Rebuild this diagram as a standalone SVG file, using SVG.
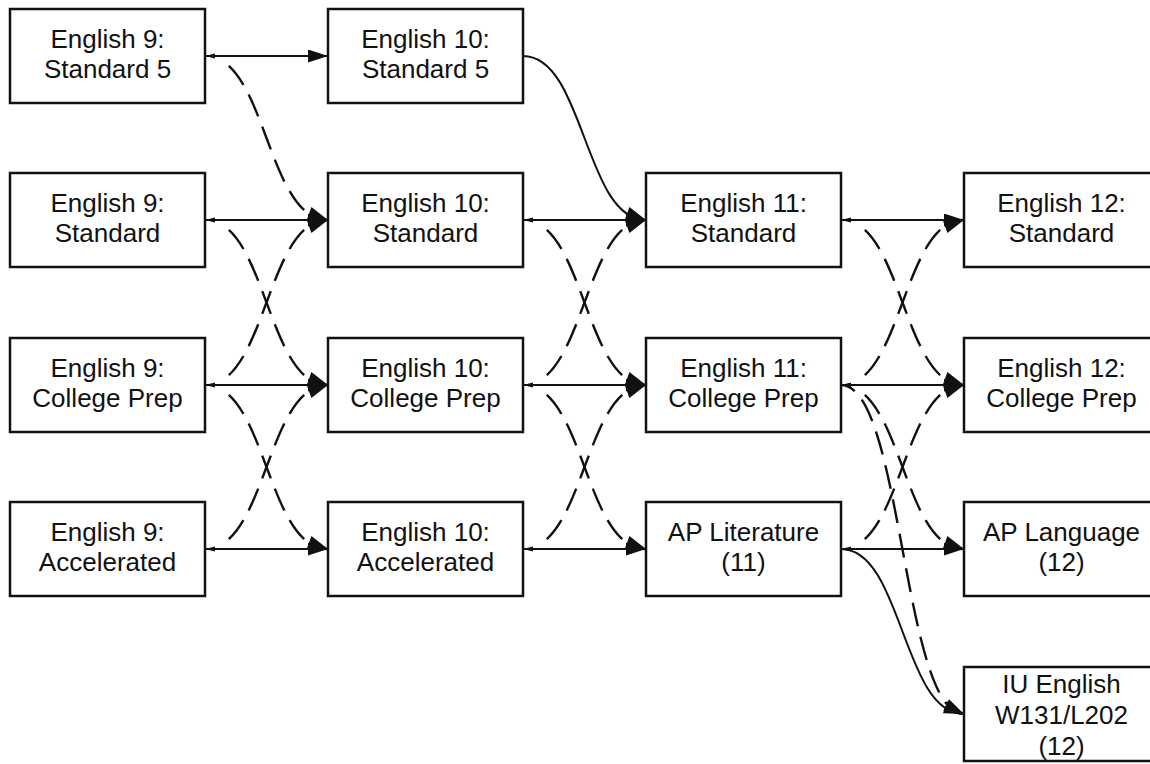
<svg xmlns="http://www.w3.org/2000/svg" xmlns:xlink="http://www.w3.org/1999/xlink" width="1150" height="764" viewBox="0 0 1150 764">
<style>
  .box { fill: #ffffff; stroke: #111111; stroke-width: 2.5; }
  .lbl { font-family: "Liberation Sans", Arial, sans-serif; font-size: 26px; fill: #111111; text-anchor: middle; }
  .solid { fill: none; stroke: #111111; stroke-width: 2; }
  .h { marker-start: url(#tick); marker-end: url(#arr); }
  .dash { fill: none; stroke: #111111; stroke-width: 2.4; stroke-dasharray: 0 26.5 24 11 24 11 24 11 24 11 24 11 24 11 24 300; }
  .dashl { fill: none; stroke: #111111; stroke-width: 2.4; stroke-dasharray: 24 11; stroke-dashoffset: 8.5; }
  .ah { fill: #111111; }
</style>
<defs>
  <marker id="arr" markerUnits="userSpaceOnUse" markerWidth="20" markerHeight="13" refX="20" refY="6.5" orient="auto">
    <path d="M0,0 L20,6.5 L0,13 z" fill="#111111"/>
  </marker>
  <marker id="tick" markerUnits="userSpaceOnUse" markerWidth="11" markerHeight="6" refX="1" refY="3" orient="auto">
    <path d="M1,3 L11,0.5 L11,5.5 z" fill="#111111"/>
  </marker>
  <polygon id="ah" points="0,0 -20,-6.5 -20,6.5"/>
</defs>
<rect width="1150" height="764" fill="#ffffff"/>

<g id="e9s5"><rect class="box" x="10" y="9" width="195" height="94"/><text class="lbl" x="107.5" y="47.5">English 9:</text><text class="lbl" x="107.5" y="77.5">Standard 5</text></g>
<g id="e9s"><rect class="box" x="10" y="173" width="195" height="94"/><text class="lbl" x="107.5" y="211.5">English 9:</text><text class="lbl" x="107.5" y="241.5">Standard</text></g>
<g id="e9cp"><rect class="box" x="10" y="338" width="195" height="94"/><text class="lbl" x="107.5" y="376.5">English 9:</text><text class="lbl" x="107.5" y="406.5">College Prep</text></g>
<g id="e9a"><rect class="box" x="10" y="502" width="195" height="94"/><text class="lbl" x="107.5" y="540.5">English 9:</text><text class="lbl" x="107.5" y="570.5">Accelerated</text></g>

<g id="e10s5"><rect class="box" x="328" y="9" width="195" height="94"/><text class="lbl" x="425.5" y="47.5">English 10:</text><text class="lbl" x="425.5" y="77.5">Standard 5</text></g>
<g id="e10s"><rect class="box" x="328" y="173" width="195" height="94"/><text class="lbl" x="425.5" y="211.5">English 10:</text><text class="lbl" x="425.5" y="241.5">Standard</text></g>
<g id="e10cp"><rect class="box" x="328" y="338" width="195" height="94"/><text class="lbl" x="425.5" y="376.5">English 10:</text><text class="lbl" x="425.5" y="406.5">College Prep</text></g>
<g id="e10a"><rect class="box" x="328" y="502" width="195" height="94"/><text class="lbl" x="425.5" y="540.5">English 10:</text><text class="lbl" x="425.5" y="570.5">Accelerated</text></g>

<g id="e11s"><rect class="box" x="646" y="173" width="195" height="94"/><text class="lbl" x="743.5" y="211.5">English 11:</text><text class="lbl" x="743.5" y="241.5">Standard</text></g>
<g id="e11cp"><rect class="box" x="646" y="338" width="195" height="94"/><text class="lbl" x="743.5" y="376.5">English 11:</text><text class="lbl" x="743.5" y="406.5">College Prep</text></g>
<g id="aplit"><rect class="box" x="646" y="502" width="195" height="94"/><text class="lbl" x="743.5" y="540.5">AP Literature</text><text class="lbl" x="743.5" y="570.5">(11)</text></g>

<g id="e12s"><rect class="box" x="964" y="173" width="195" height="94"/><text class="lbl" x="1061.5" y="211.5">English 12:</text><text class="lbl" x="1061.5" y="241.5">Standard</text></g>
<g id="e12cp"><rect class="box" x="964" y="338" width="195" height="94"/><text class="lbl" x="1061.5" y="376.5">English 12:</text><text class="lbl" x="1061.5" y="406.5">College Prep</text></g>
<g id="aplang"><rect class="box" x="964" y="502" width="195" height="94"/><text class="lbl" x="1061.5" y="540.5">AP Language</text><text class="lbl" x="1061.5" y="570.5">(12)</text></g>
<g id="iu"><rect class="box" x="964" y="667" width="195" height="94"/><text class="lbl" x="1061.5" y="693">IU English</text><text class="lbl" x="1061.5" y="724">W131/L202</text><text class="lbl" x="1061.5" y="755">(12)</text></g>

<g id="connectors">
  <path class="solid h" d="M205,56 L328,56"/>
  <path class="solid h" d="M205,220 L328,220"/>
  <path class="solid h" d="M205,385 L328,385"/>
  <path class="solid h" d="M205,549 L328,549"/>
  <path class="solid h" d="M523,220 L646,220"/>
  <path class="solid h" d="M523,385 L646,385"/>
  <path class="solid h" d="M523,549 L646,549"/>
  <path class="solid h" d="M841,220 L964,220"/>
  <path class="solid h" d="M841,385 L964,385"/>
  <path class="solid h" d="M841,549 L964,549"/>
  <path class="solid" d="M523,56 C584.5,56 584.5,220 646,220"/>
  <use href="#ah" class="ah" transform="translate(646,220) rotate(20)"/>
  <path class="solid" d="M841,549 C902.5,549 902.5,714 964,714"/>
  <use href="#ah" class="ah" transform="translate(964,714) rotate(20)"/>
  <path class="dash" pathLength="217" d="M205,56 C266.5,56 266.5,220 328,220"/>
  <use href="#ah" class="ah" transform="translate(328,220) rotate(20)"/>
  <path class="dash" pathLength="217" d="M205,220 C266.5,220 266.5,385 328,385"/>
  <use href="#ah" class="ah" transform="translate(328,385) rotate(20)"/>
  <path class="dash" pathLength="217" d="M205,385 C266.5,385 266.5,220 328,220"/>
  <use href="#ah" class="ah" transform="translate(328,220) rotate(-20)"/>
  <path class="dash" pathLength="217" d="M205,385 C266.5,385 266.5,549 328,549"/>
  <use href="#ah" class="ah" transform="translate(328,549) rotate(20)"/>
  <path class="dash" pathLength="217" d="M205,549 C266.5,549 266.5,385 328,385"/>
  <use href="#ah" class="ah" transform="translate(328,385) rotate(-20)"/>
  <path class="dash" pathLength="217" d="M523,220 C584.5,220 584.5,385 646,385"/>
  <use href="#ah" class="ah" transform="translate(646,385) rotate(20)"/>
  <path class="dash" pathLength="217" d="M523,385 C584.5,385 584.5,220 646,220"/>
  <use href="#ah" class="ah" transform="translate(646,220) rotate(-20)"/>
  <path class="dash" pathLength="217" d="M523,385 C584.5,385 584.5,549 646,549"/>
  <use href="#ah" class="ah" transform="translate(646,549) rotate(20)"/>
  <path class="dash" pathLength="217" d="M523,549 C584.5,549 584.5,385 646,385"/>
  <use href="#ah" class="ah" transform="translate(646,385) rotate(-20)"/>
  <path class="dash" pathLength="217" d="M841,220 C902.5,220 902.5,385 964,385"/>
  <use href="#ah" class="ah" transform="translate(964,385) rotate(20)"/>
  <path class="dash" pathLength="217" d="M841,385 C902.5,385 902.5,220 964,220"/>
  <use href="#ah" class="ah" transform="translate(964,220) rotate(-20)"/>
  <path class="dash" pathLength="217" d="M841,385 C902.5,385 902.5,549 964,549"/>
  <use href="#ah" class="ah" transform="translate(964,549) rotate(20)"/>
  <path class="dash" pathLength="217" d="M841,549 C902.5,549 902.5,385 964,385"/>
  <use href="#ah" class="ah" transform="translate(964,385) rotate(-20)"/>
  <path class="dashl" d="M841,385 C902.5,385 902.5,714 964,714"/>
  <use href="#ah" class="ah" transform="translate(964,714) rotate(27)"/>
</g>
</svg>
